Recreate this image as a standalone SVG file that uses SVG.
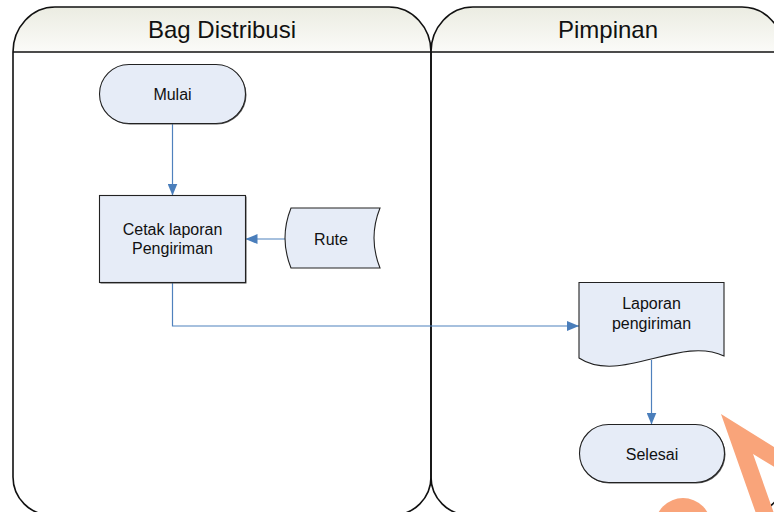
<svg xmlns="http://www.w3.org/2000/svg" width="774" height="512" viewBox="0 0 774 512">
  <defs>
    <linearGradient id="hdr" x1="0" y1="0" x2="0" y2="1">
      <stop offset="0" stop-color="#ebece2"/>
      <stop offset="1" stop-color="#fbfbf8"/>
    </linearGradient>
    <marker id="arrow" viewBox="0 0 12 10" refX="12" refY="5" markerWidth="12" markerHeight="10" markerUnits="userSpaceOnUse" orient="auto">
      <path d="M0,0 L12,5 L0,10 Z" fill="#4a7ebb"/>
    </marker>
    <style>
      .lane { fill: none; stroke: #111; stroke-width: 1.6; }
      .hdr { fill: url(#hdr); stroke: none; }
      .title { font-family: "Liberation Sans", Arial, sans-serif; font-size: 24px; fill: #111; text-anchor: middle; }
      .shape { fill: #e6ecf7; stroke: #222; stroke-width: 1.1; }
      .shadow { fill: #555; stroke: none; }
      .label { font-family: "Liberation Sans", Arial, sans-serif; font-size: 16px; fill: #111; text-anchor: middle; }
      .flow { fill: none; stroke: #4f81bd; stroke-width: 1.2; marker-end: url(#arrow); }
      .mark { fill: none; stroke: #f9a47a; stroke-width: 17; stroke-linejoin: miter; }
    </style>
  </defs>

  <rect width="774" height="512" fill="#ffffff"/>

  <!-- swimlanes -->
  <g id="lane-bag-distribusi">
    <path class="hdr" d="M13,52 A42 45 0 0 1 55,7 H389 A42 45 0 0 1 431,52 Z"/>
    <path class="lane" d="M13,477 V52 A42 45 0 0 1 55,7 H389 A42 45 0 0 1 431,52 V477 A38 38 0 0 1 393,515 H51 A38 38 0 0 1 13,477 Z"/>
    <line class="lane" x1="13" y1="52" x2="431" y2="52"/>
    <text class="title" x="222" y="38">Bag Distribusi</text>
  </g>
  <g id="lane-pimpinan">
    <path class="hdr" d="M431,52 A42 45 0 0 1 473,7 H742 A42 45 0 0 1 784,52 Z"/>
    <path class="lane" d="M431,477 V52 A42 45 0 0 1 473,7 H742 A42 45 0 0 1 784,52 V477 A38 38 0 0 1 746,515 H469 A38 38 0 0 1 431,477 Z"/>
    <line class="lane" x1="431" y1="52" x2="784" y2="52"/>
    <text class="title" x="608" y="38">Pimpinan</text>
  </g>

  <!-- connectors -->
  <g id="connectors">
    <path class="flow" d="M172.5,123.5 V195.5"/>
    <path class="flow" d="M285,239 H245.5"/>
    <path class="flow" d="M172.5,282.5 V326 H579"/>
    <path class="flow" d="M651.5,360 V424.5"/>
  </g>

  <!-- nodes -->
  <g id="mulai">
    <rect class="shadow" x="100.5" y="65.5" width="146" height="59" rx="29.5"/>
    <rect class="shape" x="99.5" y="64.5" width="146" height="59" rx="29.5"/>
    <text class="label" x="172.5" y="100">Mulai</text>
  </g>

  <g id="cetak-laporan">
    <rect class="shadow" x="100.5" y="196.5" width="146" height="87"/>
    <rect class="shape" x="99.5" y="195.5" width="146" height="87"/>
    <text class="label" x="172.5" y="235">Cetak laporan</text>
    <text class="label" x="172.5" y="254">Pengiriman</text>
  </g>

  <g id="rute">
    <path class="shape" d="M291,208 H380 Q368,238 380,268 H291 Q279,238 291,208 Z"/>
    <text class="label" x="331" y="245">Rute</text>
  </g>

  <g id="laporan-pengiriman">
    <path class="shape" d="M579,282.5 H724 V356 C680,335 620,385 579,358 Z"/>
    <text class="label" x="651.5" y="309">Laporan</text>
    <text class="label" x="651.5" y="329">pengiriman</text>
  </g>

  <g id="selesai">
    <rect class="shadow" x="580.5" y="425.5" width="145" height="58" rx="29"/>
    <rect class="shape" x="579.5" y="424.5" width="145" height="58" rx="29"/>
    <text class="label" x="652" y="460">Selesai</text>
  </g>

  <!-- orange mark in the lower right corner -->
  <g id="corner-mark">
    <path class="mark" d="M768,522 L737,434 L792,468"/>
    <circle cx="683" cy="526" r="28" fill="#f9a47a"/>
  </g>
</svg>
